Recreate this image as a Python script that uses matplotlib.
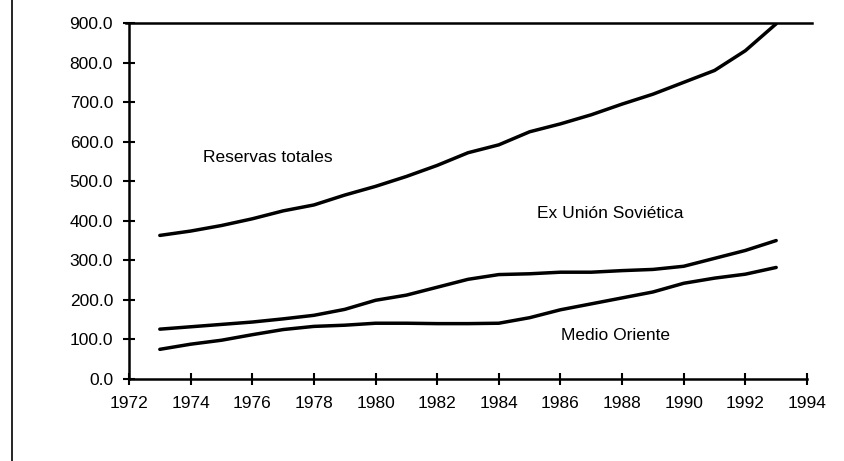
import numpy as np
import matplotlib
matplotlib.use("Agg")
import matplotlib.pyplot as plt
from matplotlib.lines import Line2D

plt.rcParams['font.family'] = ['Liberation Sans', 'DejaVu Sans']

# Data
years = [1973, 1974, 1975, 1976, 1977, 1978, 1979, 1980, 1981, 1982, 1983,
         1984, 1985, 1986, 1987, 1988, 1989, 1990, 1991, 1992, 1993]
reservas_totales = [363, 374, 388, 405, 425, 440, 465, 487, 512, 540, 572,
                    592, 625, 645, 668, 695, 720, 750, 780, 830, 898]
ex_union_sovietica = [126, 132, 138, 144, 152, 161, 176, 199, 212, 232, 252,
                      264, 266, 270, 270, 274, 277, 285, 305, 325, 350]
medio_oriente = [75, 88, 98, 112, 125, 133, 136, 141, 141, 140, 140,
                 141, 155, 175, 190, 205, 220, 242, 255, 265, 282]

x_ticks = list(range(1972, 1995, 2))
y_ticks = [0, 100, 200, 300, 400, 500, 600, 700, 800, 900]

fig = plt.figure(figsize=(8.45, 4.61), dpi=100)
ax = fig.add_axes([129 / 845, (461 - 379) / 461, (807 - 129) / 845, (379 - 23) / 461])

for serie in [reservas_totales, ex_union_sovietica, medio_oriente]:
    ax.plot(years, serie, color='black', linewidth=2.5, solid_capstyle='round')

# horizontal line at the top (frame top)
ax.plot([1971.9, 1994.15], [900, 900], color='black', linewidth=1.8, clip_on=False)

ax.set_xlim(1972, 1994)
ax.set_ylim(0, 900)
ax.set_xticks(x_ticks)
ax.set_yticks(y_ticks)
ax.set_yticklabels([f"{v:.1f}" for v in y_ticks])

for side in ['top', 'right']:
    ax.spines[side].set_visible(False)
for side in ['left', 'bottom']:
    ax.spines[side].set_linewidth(1.8)

ax.tick_params(axis='both', direction='inout', length=9, width=1.5,
               labelsize=12.5, color='black')
ax.tick_params(axis='y', pad=7)
ax.tick_params(axis='x', pad=8)

# series labels
ax.text(1974.4, 559, "Reservas totales", fontsize=12.5, ha='left', va='center')
ax.text(1987.6, 418, "Ex Unión Soviética", fontsize=12.5, ha='center', va='center')
ax.text(1987.8, 111, "Medio Oriente", fontsize=12.5, ha='center', va='center')

# left border of the figure
fig.add_artist(Line2D([12 / 845, 12 / 845], [0, 1], color='black', linewidth=1.2))

plt.savefig("out.png", dpi=100)
